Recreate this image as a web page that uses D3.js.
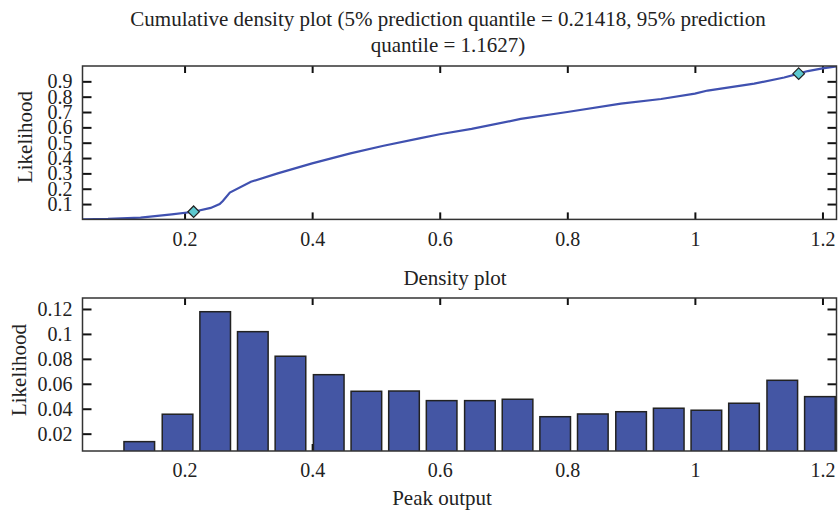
<!DOCTYPE html>
<html>
<head>
<meta charset="utf-8">
<script src="https://cdn.jsdelivr.net/npm/d3@7"></script>
<style>
  body { margin: 0; background: #fff; }
  svg text { font-family: "Liberation Serif", "DejaVu Serif", serif; fill: #222; }
</style>
</head>
<body>
<svg id="chart" width="840" height="510"></svg>
<script>
// cumulative curve
var cdfX = [0.04, 0.08, 0.131, 0.180, 0.2142, 0.241, 0.255, 0.260, 0.271, 0.304, 0.346, 0.400, 0.460, 0.512,
            0.570, 0.600, 0.650, 0.727, 0.800, 0.884, 0.947, 1.000, 1.020, 1.093, 1.140, 1.1627, 1.177, 1.200, 1.222];
var cdfY = [0.0, 0.003, 0.012, 0.033, 0.05, 0.075, 0.10, 0.12, 0.175, 0.245, 0.30, 0.365, 0.43, 0.48,
            0.53, 0.555, 0.59, 0.655, 0.70, 0.755, 0.785, 0.82, 0.84, 0.885, 0.925, 0.95, 0.967, 0.985, 0.998];

var quantileX = [0.21418, 1.1627];
var quantileY = [0.05, 0.95];

// histogram
var binCenters = [0.129, 0.189, 0.248, 0.307, 0.366, 0.426, 0.485, 0.544, 0.603, 0.663,
                  0.722, 0.781, 0.840, 0.900, 0.959, 1.018, 1.077, 1.137, 1.196];
var density = [0.0136, 0.0356, 0.1178, 0.1018, 0.0821, 0.0673, 0.054, 0.0542, 0.0465, 0.0465,
               0.0476, 0.0336, 0.0358, 0.0376, 0.0404, 0.0388, 0.0444, 0.0628, 0.0497];

var xTicks = [0.2, 0.4, 0.6, 0.8, 1, 1.2];
var cdfTicks = [0.1, 0.2, 0.3, 0.4, 0.5, 0.6, 0.7, 0.8, 0.9];
var densTicks = [0.02, 0.04, 0.06, 0.08, 0.1, 0.12];

var svg = d3.select("#chart");
var tickFont = 20;
var labelFont = 21;

function panel(top, bottom, yDomain, yTicks) {
    var left = 82.5, right = 836.5;
    var x = d3.scaleLinear().domain([0.04, 1.222]).range([left, right]);
    var y = d3.scaleLinear().domain(yDomain).range([bottom, top]);
    var g = svg.append("g");

    var clipId = "clip" + Math.round(top);
    svg.append("clipPath").attr("id", clipId)
        .append("rect").attr("x", left).attr("y", top).attr("width", right - left).attr("height", bottom - top);

    // inward ticks on all four sides
    var axes = g.append("g").attr("class", "ticks");
    axes.append("g").attr("transform", "translate(0," + bottom + ")")
        .call(d3.axisBottom(x).tickValues(xTicks).tickSize(-7).tickPadding(12).tickFormat(function (d) { return d; }));
    axes.append("g").attr("transform", "translate(0," + top + ")")
        .call(d3.axisTop(x).tickValues(xTicks).tickSize(-7).tickFormat(""));
    axes.append("g").attr("transform", "translate(" + left + ",0)")
        .call(d3.axisLeft(y).tickValues(yTicks).tickSize(-9).tickPadding(10).tickFormat(function (d) { return d; }));
    axes.append("g").attr("transform", "translate(" + right + ",0)")
        .call(d3.axisRight(y).tickValues(yTicks).tickSize(-9).tickFormat(""));
    axes.selectAll(".domain").remove();
    axes.selectAll(".tick line").attr("stroke", "#111").attr("stroke-width", 2);
    axes.selectAll(".tick text").attr("font-size", tickFont).attr("font-family", "Liberation Serif").attr("fill", "#222");

    return { g: g, x: x, y: y, left: left, right: right, top: top, bottom: bottom, clip: "url(#" + clipId + ")" };
}

function frame(p) {
    p.g.append("rect")
        .attr("x", p.left).attr("y", p.top)
        .attr("width", p.right - p.left).attr("height", p.bottom - p.top)
        .attr("fill", "none").attr("stroke", "#333").attr("stroke-width", 1.5);
}

// ---- top: cumulative density
var cdfPanel = panel(66, 219.4, [0, 1], cdfTicks);
var line = d3.line()
    .x(function (d, i) { return cdfPanel.x(cdfX[i]); })
    .y(function (d, i) { return cdfPanel.y(cdfY[i]); });
cdfPanel.g.append("path").datum(cdfX)
    .attr("clip-path", cdfPanel.clip)
    .attr("d", line).attr("fill", "none")
    .attr("stroke", "#4051b0").attr("stroke-width", 2.2);
cdfPanel.g.selectAll(".q").data(quantileX).enter().append("path")
    .attr("transform", function (d, i) { return "translate(" + cdfPanel.x(d) + "," + cdfPanel.y(quantileY[i]) + ")"; })
    .attr("d", d3.symbol(d3.symbolDiamond2, 85))
    .attr("fill", "#5cc8cf").attr("stroke", "#222").attr("stroke-width", 1.2);
frame(cdfPanel);

svg.append("text").attr("x", 448).attr("y", 26).attr("text-anchor", "middle").attr("font-size", labelFont)
    .text("Cumulative density plot (5% prediction quantile = 0.21418, 95% prediction");
svg.append("text").attr("x", 448).attr("y", 52).attr("text-anchor", "middle").attr("font-size", labelFont)
    .text("quantile = 1.1627)");
svg.append("text").attr("transform", "translate(32,137) rotate(-90)").attr("text-anchor", "middle")
    .attr("font-size", labelFont).text("Likelihood");

// ---- bottom: density histogram
var histPanel = panel(298, 451, [0.0061, 0.1288], densTicks);
var binWidth = 0.8 * (binCenters[1] - binCenters[0]);
histPanel.g.append("g").attr("clip-path", histPanel.clip)
    .selectAll("rect").data(density).enter().append("rect")
    .attr("x", function (d, i) { return histPanel.x(binCenters[i] - binWidth / 2); })
    .attr("width", histPanel.x(binWidth) - histPanel.x(0))
    .attr("y", function (d) { return histPanel.y(d); })
    .attr("height", function (d) { return histPanel.y(0) - histPanel.y(d); })
    .attr("fill", "#4456a4").attr("stroke", "#222").attr("stroke-width", 1.5);
frame(histPanel);

svg.append("text").attr("x", 455).attr("y", 285).attr("text-anchor", "middle").attr("font-size", labelFont)
    .text("Density plot");
svg.append("text").attr("x", 442).attr("y", 505).attr("text-anchor", "middle").attr("font-size", labelFont)
    .text("Peak output");
svg.append("text").attr("transform", "translate(26,370) rotate(-90)").attr("text-anchor", "middle")
    .attr("font-size", labelFont).text("Likelihood");
</script>
</body>
</html>
